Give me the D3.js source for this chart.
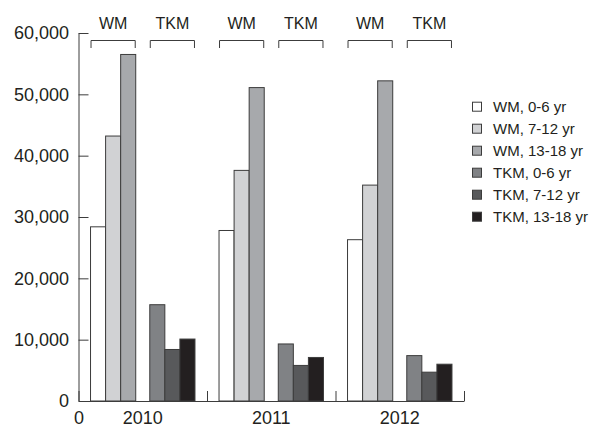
<!DOCTYPE html>
<html>
<head>
<meta charset="utf-8">
<script src="https://cdn.jsdelivr.net/npm/d3@7"></script>
<style>
  body { margin: 0; background: #fff; }
  text { font-family: "Liberation Sans", Arial, sans-serif; fill: #231f20; }
</style>
</head>
<body>
<svg></svg>
<script>
// Chart data
const years = ["2010", "2011", "2012"];
const groups = ["WM", "TKM"];
const ages = ["0-6 yr", "7-12 yr", "13-18 yr"];
const wm0to6 = [28400, 27800, 26300];
const wm7to12 = [43200, 37600, 35200];
const wm13to18 = [56500, 51100, 52200];
const tkm0to6 = [15700, 9300, 7400];
const tkm7to12 = [8400, 5800, 4700];
const tkm13to18 = [10100, 7100, 6000];
const yTicks = [0, 10000, 20000, 30000, 40000, 50000, 60000];
const seriesNames = ["WM, 0-6 yr", "WM, 7-12 yr", "WM, 13-18 yr", "TKM, 0-6 yr", "TKM, 7-12 yr", "TKM, 13-18 yr"];
const seriesColors = ["#ffffff", "#d1d2d4", "#a7a9ac", "#808285", "#58595b", "#231f20"];

const width = 592;
const height = 427;
const axisColor = "#3c3c3c";

const svg = d3.select("svg")
  .attr("width", width)
  .attr("height", height);

// build rows: one per year / group / age
const seriesValues = [wm0to6, wm7to12, wm13to18, tkm0to6, tkm7to12, tkm13to18];
const rows = [];
years.forEach((yr, i) => {
  seriesValues.forEach((vals, s) => {
    rows.push({ year: yr, group: groups[Math.floor(s / 3)], age: ages[s % 3], series: s, value: vals[i] });
  });
});

// Scales
const x0 = d3.scaleBand()
  .domain(years)
  .range([78.5, 464])
  .padding(0);

const x1 = d3.scaleBand()
  .domain(groups)
  .range([0, x0.bandwidth()])
  .paddingInner(0.237)
  .paddingOuter(0.203);

const x2 = d3.scaleBand()
  .domain(ages)
  .range([0, x1.bandwidth()])
  .padding(0);

const y = d3.scaleLinear()
  .domain([0, 60000])
  .range([401, 33]);

// Bars
svg.selectAll(".bar")
  .data(rows)
  .enter()
  .append("rect")
  .attr("class", "bar")
  .attr("x", d => x0(d.year) + x1(d.group) + x2(d.age))
  .attr("y", d => y(d.value))
  .attr("width", x2.bandwidth())
  .attr("height", d => y(0) - y(d.value))
  .attr("fill", d => seriesColors[d.series])
  .attr("stroke", axisColor)
  .attr("stroke-width", 1);

// Y axis (inward ticks)
const yAxis = svg.append("g")
  .attr("transform", `translate(${x0.range()[0]},0)`)
  .call(d3.axisLeft(y).tickValues(yTicks).tickSizeInner(-10).tickSizeOuter(0).tickPadding(9.5)
    .tickFormat(d3.format(",")));
yAxis.selectAll("path, line").attr("stroke", axisColor);
yAxis.selectAll("text")
  .style("font-size", "18px")
  .style("font-family", "'Liberation Sans', Arial, sans-serif")
  .attr("fill", "#231f20");

// X axis: boundary ticks pointing up, "0" at origin
const xBound = d3.scaleLinear()
  .domain([0, years.length])
  .range(x0.range());

const xAxis = svg.append("g")
  .attr("transform", `translate(0,${y(0)})`)
  .call(d3.axisBottom(xBound).tickValues([0, 1, 2, 3]).tickSizeInner(-10).tickSizeOuter(0).tickPadding(10.5)
    .tickFormat(d => d === 0 ? "0" : ""));
xAxis.selectAll("path, line").attr("stroke", axisColor);
xAxis.selectAll("text")
  .style("font-size", "18px")
  .style("font-family", "'Liberation Sans', Arial, sans-serif")
  .attr("fill", "#231f20");

// Year labels
svg.selectAll(".year-label")
  .data(years)
  .enter()
  .append("text")
  .attr("class", "year-label")
  .attr("x", d => x0(d) + x0.bandwidth() / 2)
  .attr("y", 424)
  .attr("text-anchor", "middle")
  .style("font-size", "18px")
  .text(d => d);

// Group brackets with labels on top
const brackets = [];
years.forEach(yr => groups.forEach(g => brackets.push({ year: yr, group: g })));

const br = svg.selectAll(".bracket")
  .data(brackets)
  .enter()
  .append("g")
  .attr("class", "bracket")
  .attr("transform", d => `translate(${x0(d.year) + x1(d.group)},0)`);

br.append("path")
  .attr("d", `M0.5,48V40.5H${x1.bandwidth() - 0.5}V48`)
  .attr("fill", "none")
  .attr("stroke", axisColor)
  .attr("stroke-width", 1);

br.append("text")
  .attr("x", x1.bandwidth() / 2)
  .attr("y", 29)
  .attr("text-anchor", "middle")
  .style("font-size", "16px")
  .text(d => d.group);

// Legend
const legend = svg.selectAll(".legend")
  .data(seriesNames)
  .enter()
  .append("g")
  .attr("class", "legend")
  .attr("transform", (d, i) => `translate(472.5,${106.7 + i * 22})`);

legend.append("rect")
  .attr("x", 0)
  .attr("y", -4.5)
  .attr("width", 9)
  .attr("height", 9)
  .attr("fill", (d, i) => seriesColors[i])
  .attr("stroke", axisColor)
  .attr("stroke-width", 1);

legend.append("text")
  .attr("x", 20.5)
  .attr("y", 5.5)
  .style("font-size", "15px")
  .text(d => d);
</script>
</body>
</html>
